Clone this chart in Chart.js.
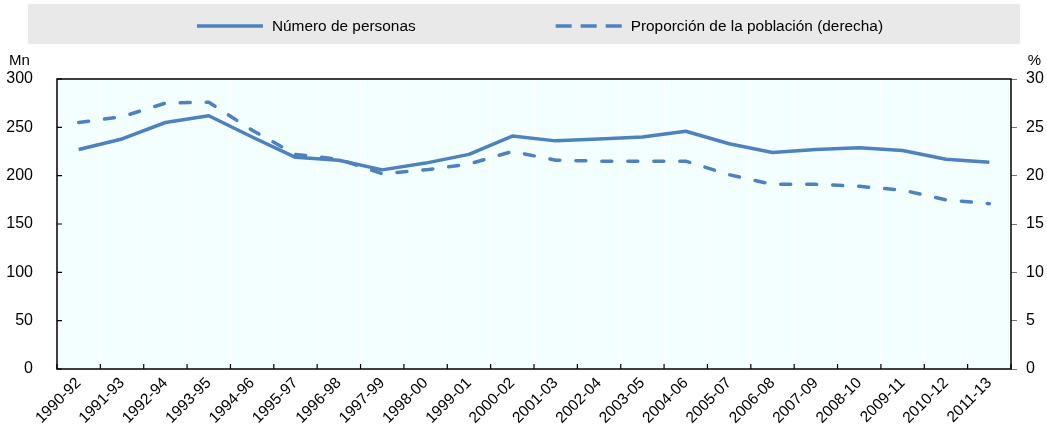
<!DOCTYPE html>
<html lang="es">
<head>
  <meta charset="UTF-8" />
  <title>Número de personas subalimentadas</title>
  <script src="https://cdn.jsdelivr.net/npm/chart.js"></script>
  <style>
    html, body { margin: 0; padding: 0; background: #fff; }
    #wrap { width: 1047px; height: 424px; }
  </style>
</head>
<body>
  <div id="wrap"><canvas id="chart" width="1047" height="424"></canvas></div>

  <script>
    const periods = ['1990-92', '1991-93', '1992-94', '1993-95', '1994-96', '1995-97', '1996-98',
      '1997-99', '1998-00', '1999-01', '2000-02', '2001-03', '2002-04', '2003-05', '2004-06',
      '2005-07', '2006-08', '2007-09', '2008-10', '2009-11', '2010-12', '2011-13'];
    // millones de personas (eje izquierdo)
    const persons = [227, 238, 255, 262, 240, 219, 216, 206, 213, 222, 241, 236, 238, 240, 246,
      233, 224, 227, 229, 226, 217, 214];
    // % de la población (eje derecho)
    const share = [25.5, 26.1, 27.5, 27.6, 24.7, 22.2, 21.7, 20.2, 20.6, 21.2, 22.5, 21.6, 21.5,
      21.5, 21.5, 20.1, 19.1, 19.1, 18.9, 18.5, 17.5, 17.1];
    const leftTicks = [0, 50, 100, 150, 200, 250, 300];
    const rightTicks = [0, 5, 10, 15, 20, 25, 30];
    const seriesNames = ['Número de personas', 'Proporción de la población (derecha)'];

    const FONT = "'Liberation Sans', Arial, sans-serif";
    const BLUE = '#4f81bd';

    // fondo, marco, marcas hacia dentro, unidades y leyenda
    const decor = {
      id: 'decor',
      beforeDraw(chart) {
        const { ctx, chartArea: a } = chart;
        ctx.save();
        ctx.fillStyle = '#f3ffff';
        ctx.fillRect(a.left, a.top, a.right - a.left, a.bottom - a.top);
        ctx.fillStyle = '#e9e9e9';
        ctx.fillRect(28, 4, 992, 40);
        ctx.restore();
      },
      afterDraw(chart) {
        const { ctx, chartArea: a, scales } = chart;
        ctx.save();
        ctx.strokeStyle = '#000';
        ctx.lineWidth = 1.5;
        ctx.strokeRect(a.left, a.top, a.right - a.left, a.bottom - a.top);

        ctx.lineWidth = 1.2;
        ctx.beginPath();
        leftTicks.forEach(v => {
          const y = scales.y.getPixelForValue(v);
          ctx.moveTo(a.left, y);
          ctx.lineTo(a.left + 5, y);
        });
        for (let i = 0; i <= periods.length; i++) {
          const x = a.left + (a.right - a.left) * i / periods.length;
          ctx.moveTo(x, a.bottom);
          ctx.lineTo(x, a.bottom - 5);
        }
        ctx.stroke();

        ctx.fillStyle = '#000';
        ctx.font = '15px ' + FONT;
        ctx.textBaseline = 'middle';
        ctx.textAlign = 'left';
        ctx.fillText('Mn', 9, 61);
        ctx.textAlign = 'right';
        ctx.fillText('%', 1041, 61);

        // leyenda
        const sample = 66, gapText = 9, gapItems = 140, ly = 26;
        ctx.font = '15.4px ' + FONT;
        const w0 = ctx.measureText(seriesNames[0]).width;
        const w1 = ctx.measureText(seriesNames[1]).width;
        const total = sample + gapText + w0 + gapItems + sample + gapText + w1;
        let x = 540 - total / 2;
        const dashes = [[], [16, 9]];
        ctx.textAlign = 'left';
        seriesNames.forEach((name, i) => {
          const ds = chart.data.datasets[i];
          ctx.strokeStyle = ds.borderColor;
          ctx.lineWidth = ds.borderWidth;
          ctx.setLineDash(dashes[i]);
          ctx.beginPath();
          ctx.moveTo(x, ly);
          ctx.lineTo(x + sample, ly);
          ctx.stroke();
          ctx.setLineDash([]);
          x += sample + gapText;
          ctx.fillText(name, x, ly + 1);
          x += (i === 0 ? w0 : w1) + gapItems;
        });
        ctx.restore();
      }
    };

    new Chart(document.getElementById('chart'), {
      type: 'line',
      data: {
        labels: periods,
        datasets: [
          {
            label: seriesNames[0],
            data: persons,
            yAxisID: 'y',
            borderColor: BLUE,
            borderWidth: 3.5,
            pointRadius: 0,
            tension: 0,
            borderJoinStyle: 'round'
          },
          {
            label: seriesNames[1],
            data: share,
            yAxisID: 'y1',
            borderColor: BLUE,
            borderWidth: 3.5,
            borderDash: [10, 16],
            borderCapStyle: 'round',
            pointRadius: 0,
            tension: 0
          }
        ]
      },
      options: {
        responsive: false,
        animation: false,
        layout: { padding: { top: 79, left: 0, right: 0, bottom: 0 } },
        plugins: {
          legend: { display: false },
          tooltip: { enabled: false }
        },
        scales: {
          x: {
            offset: true,
            border: { display: false },
            grid: { offset: true, color: '#ffffff', lineWidth: 1, drawTicks: false },
            ticks: {
              autoSkip: false,
              maxRotation: 45,
              minRotation: 45,
              padding: 5,
              color: '#000',
              font: { family: FONT, size: 15.5 }
            },
            afterFit(scale) { scale.height = 55; }
          },
          y: {
            position: 'left',
            min: 0,
            max: 300,
            border: { display: false },
            grid: { display: false },
            ticks: {
              stepSize: 50,
              padding: 16,
              color: '#000',
              font: { family: FONT, size: 16 }
            },
            afterFit(scale) { scale.width = 57; }
          },
          y1: {
            position: 'right',
            min: 0,
            max: 30,
            border: { display: false },
            grid: { drawOnChartArea: false, tickLength: 6, color: '#777' },
            ticks: {
              stepSize: 5,
              padding: 9,
              color: '#000',
              font: { family: FONT, size: 16 }
            },
            afterFit(scale) { scale.width = 36; }
          }
        }
      },
      plugins: [decor]
    });
  </script>
</body>
</html>
